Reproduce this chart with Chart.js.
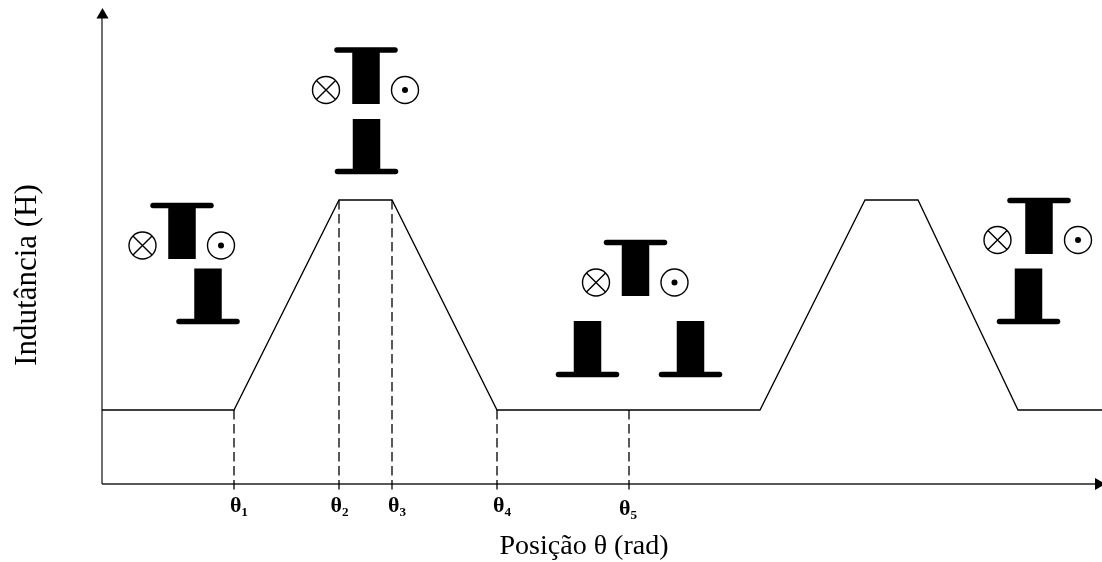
<!DOCTYPE html>
<html lang="pt">
<head>
<meta charset="utf-8">
<title>Indutância x Posição</title>
<script src="https://cdn.jsdelivr.net/npm/chart.js@4/dist/chart.umd.min.js"></script>
<style>
  html, body { margin: 0; background: #fff; }
  #wrap { width: 1102px; height: 562px; }
</style>
</head>
<body>
<div id="wrap"><canvas id="chart" width="1102" height="562"></canvas></div>
<script>
// inductance profile, corner points
const curveX = [0, 132, 237, 290, 395, 658, 763, 816, 916, 1000];
const curveY = [74, 74, 284, 284, 74, 74, 284, 284, 74, 74];

// dashed drops from the curve to the axis
const dropX = [132, 237, 290, 395, 527];
const dropTop = [74, 284, 284, 74, 74];
const dropBottom = -6;

// tick labels, the last one sits a bit lower in the figure
const thetaLabels = ["θ₁", "θ₂", "θ₃", "θ₄"];
const thetaLabelX = [137, 237.5, 295, 400];
const lowLabels = ["θ₅"];
const lowLabelX = [526];

// rotor pole, one per drawing: [pole centre, flange level, pole tip level]
const rotorCentre = [80, 264, 533.5, 937];
const rotorFlange = [278.5, 434, 241.5, 283.5];
const rotorTip = [225, 380, 188, 230];

// stator poles, the third drawing has two
const statorCentre = [106, 264.5, 485.5, 588.5, 926.5];
const statorFlange = [162.5, 312.5, 109.5, 109.5, 162.5];
const statorTip = [215.5, 365, 163, 163, 215.5];

// winding symbols
const coilY = [238.5, 394, 201.5, 244];
const coilInX = [40.5, 224, 494, 895.5];
const coilOutX = [119, 303, 572.5, 976];

// axis ends, arrowheads sit past the chart area
const axisEndX = 995;
const axisEndY = 470;

const FLANGE_HALF = 29;

function lineSet(xs, ys, style) {
  return {
    type: "scatter",
    showLine: true,
    clip: false,
    pointRadius: 0,
    borderColor: "#000",
    data: xs.map((x, i) => ({ x, y: ys[i] })),
    ...style,
  };
}

function pointSet(xs, ys, style) {
  return {
    type: "scatter",
    showLine: false,
    clip: false,
    data: xs.map((x, i) => ({ x, y: ys[i] })),
    ...style,
  };
}

function poleSets(centre, flange, tip) {
  const sets = [];
  centre.forEach((c, i) => {
    sets.push(lineSet([c, c], [flange[i], tip[i]], { borderWidth: 27.5, borderCapStyle: "butt" }));
    sets.push(lineSet([c - FLANGE_HALF, c + FLANGE_HALF], [flange[i], flange[i]], { borderWidth: 5.5, borderCapStyle: "round" }));
  });
  return sets;
}

function lowTicks(scale) {
  scale.ticks = lowLabelX.map((value) => ({ value }));
}

const circleStyle = { pointStyle: "circle", pointRadius: 13.5, pointBackgroundColor: "#fff", pointBorderColor: "#000", pointBorderWidth: 1.4 };

// chart.js paints the first dataset last, so symbols on top come first
const datasets = [
  // wide transparent border keeps the last dot from being culled past the chart area
  pointSet(coilOutX, coilY, { pointStyle: "circle", pointRadius: 3, pointBackgroundColor: "#000", pointBorderColor: "rgba(0,0,0,0)", pointBorderWidth: 10 }),
  pointSet(coilOutX, coilY, circleStyle),
  pointSet(coilInX, coilY, { pointStyle: "crossRot", pointRadius: 13.5, pointBorderColor: "#000", pointBorderWidth: 1.4 }),
  pointSet(coilInX, coilY, circleStyle),
  ...poleSets(rotorCentre, rotorFlange, rotorTip),
  ...poleSets(statorCentre, statorFlange, statorTip),
  lineSet(curveX, curveY, { borderWidth: 1.3, borderJoinStyle: "miter" }),
  ...dropX.map((x, i) => lineSet([x, x], [dropTop[i], dropBottom], { borderWidth: 1.3, borderDash: [9.5, 4.5] })),
  lineSet([0, 0], [0, axisEndY], { borderColor: "#222", borderWidth: 1.3 }),
  lineSet([0, axisEndX], [0, 0], { borderColor: "#222", borderWidth: 1.3 }),
];

// points outside the chart area get skipped by the line controller, so draw these by hand
const axisArrows = {
  id: "axisArrows",
  afterDatasetsDraw(chart) {
    const { ctx, scales } = chart;
    const opts = { pointStyle: "triangle", radius: 7, borderWidth: 0 };
    ctx.save();
    ctx.fillStyle = "#000";
    Chart.helpers.drawPoint(ctx, { ...opts, rotation: 0 }, scales.x.getPixelForValue(0.5), scales.y.getPixelForValue(axisEndY - 1));
    Chart.helpers.drawPoint(ctx, { ...opts, rotation: 90 }, scales.x.getPixelForValue(axisEndX + 1.5), scales.y.getPixelForValue(0));
    ctx.restore();
  },
};

const tickFont = { family: "Liberation Serif", size: 22, weight: "bold" };

new Chart(document.getElementById("chart"), {
  type: "scatter",
  data: { datasets },
  plugins: [axisArrows],
  options: {
    responsive: false,
    animation: false,
    // asymmetric padding so both axis titles sit where they do in the figure
    layout: { padding: { top: 66, right: 36, left: 0, bottom: 0 } },
    plugins: { legend: { display: false }, tooltip: { enabled: false } },
    scales: {
      x: {
        type: "linear",
        min: 0,
        max: 964,
        grid: { display: false, drawTicks: false },
        border: { display: false },
        afterBuildTicks: (scale) => {
          scale.ticks = thetaLabelX.map((value) => ({ value }));
        },
        afterFit: (scale) => {
          scale.height = 78;
        },
        ticks: {
          autoSkip: false,
          maxRotation: 0,
          padding: 9,
          color: "#000",
          font: tickFont,
          callback: (value, index) => thetaLabels[index],
        },
        title: {
          display: true,
          text: "Posição θ (rad)",
          color: "#000",
          font: { family: "Liberation Serif", size: 28 },
          padding: { top: 0, bottom: -1 },
        },
      },
      // zero height axis, only here to carry the lower θ₅ label.
      // mirror turns off the label clip, which would hide it at this height
      x2: {
        type: "linear",
        position: "bottom",
        weight: 1,
        min: 0,
        max: 964,
        grid: { display: false, drawTicks: false },
        border: { display: false },
        afterBuildTicks: lowTicks,
        afterFit: (scale) => {
          scale.height = 0;
        },
        ticks: {
          autoSkip: false,
          maxRotation: 0,
          mirror: true,
          padding: 39,
          color: "#000",
          font: tickFont,
          callback: (value, index) => lowLabels[index],
        },
      },
      y: {
        type: "linear",
        min: 0,
        max: 418,
        grid: { display: false, drawTicks: false },
        border: { display: false },
        afterFit: (scale) => {
          scale.width = 102;
        },
        ticks: { display: false },
        title: {
          display: true,
          text: "Indutância (H)",
          color: "#000",
          font: { family: "Liberation Serif", size: 31 },
          padding: { top: 9, bottom: 0 },
        },
      },
    },
  },
});
</script>
</body>
</html>
